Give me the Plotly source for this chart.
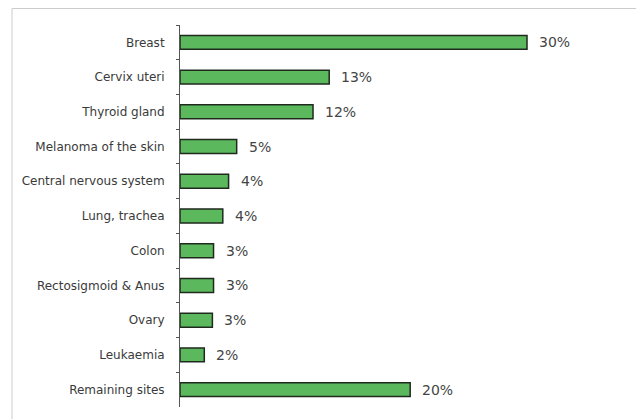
import plotly.graph_objects as go

categories = ["Breast", "Cervix uteri", "Thyroid gland", "Melanoma of the skin",
              "Central nervous system", "Lung, trachea", "Colon",
              "Rectosigmoid & Anus", "Ovary", "Leukaemia", "Remaining sites"]
values = [30.0, 12.9, 11.5, 4.9, 4.2, 3.7, 2.9, 2.9, 2.8, 2.1, 19.9]
labels = ["30%", "13%", "12%", "5%", "4%", "4%", "3%", "3%", "3%", "2%", "20%"]

FONT = "DejaVu Sans, Verdana, Arial"

fig = go.Figure()
fig.add_trace(go.Bar(
    x=values, y=categories, orientation="h",
    marker=dict(color="#5cb85c", line=dict(color="#1e2a1e", width=1.5)),
    width=0.4, hoverinfo="skip",
))

for v, c, t in zip(values, categories, labels):
    fig.add_annotation(x=v, y=c, text=t, showarrow=False, xanchor="left",
                       xshift=10, font=dict(family=FONT, size=14, color="#444444"))

# page has an 8px body margin; figure coordinates are page coordinates minus 8
W, H = 636, 411
plot_left, plot_right, plot_top, plot_bottom = 172, 592, 17, 399
pw = plot_right - plot_left
ph = plot_bottom - plot_top
top_line_y = 1 + (plot_top - 0.5) / ph
left_line_x = (4 - plot_left) / pw

fig.update_layout(
    width=W, height=H,
    margin=dict(l=plot_left, r=W - plot_right, t=plot_top, b=H - plot_bottom, pad=0),
    paper_bgcolor="white", plot_bgcolor="white",
    showlegend=False,
    font=dict(family=FONT, size=12, color="#333333"),
    xaxis=dict(range=[0, pw / (347 / 30)], visible=False, fixedrange=True),
    yaxis=dict(autorange="reversed", showline=True, linecolor="#555555", linewidth=1,
               ticks="outside", ticklen=3, tickcolor="#555555", tickson="boundaries",
               ticklabelstandoff=12, showgrid=False, zeroline=False,
               tickfont=dict(family=FONT, size=12, color="#3a3a3a")),
    shapes=[
        dict(type="line", xref="paper", yref="paper",
             x0=left_line_x, x1=(W - plot_left) / pw,
             y0=top_line_y, y1=top_line_y,
             line=dict(color="#cccccc", width=1)),
        dict(type="line", xref="paper", yref="paper",
             x0=left_line_x, x1=left_line_x,
             y0=top_line_y, y1=-(H - plot_bottom) / ph,
             line=dict(color="#cccccc", width=1)),
    ],
)

fig.write_html("out.html")
